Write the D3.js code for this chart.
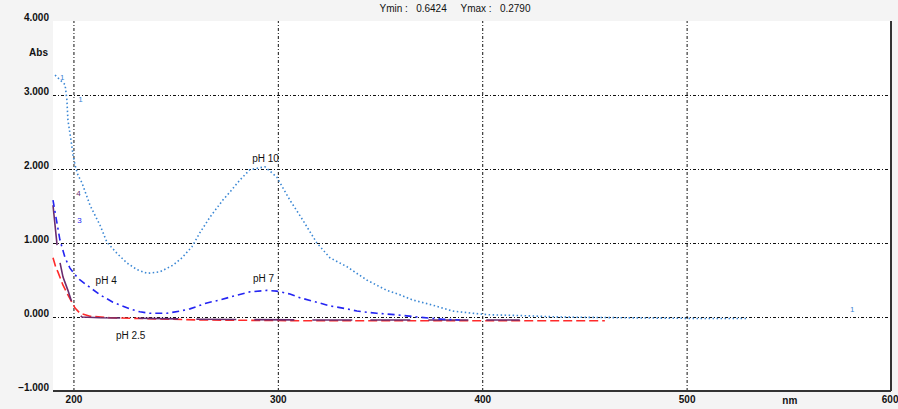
<!DOCTYPE html>
<html>
<head>
<meta charset="utf-8">
<script src="https://cdn.jsdelivr.net/npm/d3@7"></script>
<style>
  body { margin: 0; background: #f4f4f4; }
  svg { display: block; font-family: 'Liberation Sans', Arial, sans-serif; }
  .tick text { font-size: 10px; fill: #111; }
  .grid line { stroke: #111; stroke-dasharray: 3,2,1,2; }
  .grid path { display: none; }
  .lbl { font-size: 10px; fill: #111; }
</style>
</head>
<body>
<div id="chart"></div>
<script>
// Wavelength (nm) / absorbance readings
const ph10Nm  = [191.0, 195.9, 196.8, 197.3, 198.8, 199.8, 200.8, 202.2, 204.2, 208.1, 213.0, 216.4, 221.3, 226.2, 231.1, 236.0, 242.3, 248.7, 253.1, 258.0, 261.9, 266.8, 273.1, 276.6, 281.4, 286.3, 293.7, 299.5, 305.9, 312.2, 319.1, 325.5, 333.8, 343.5, 353.3, 359.7, 366.0, 375.8, 385.6, 395.4, 403.7, 418.4, 437.9, 467.3, 506.4, 529.9]
const ph10Abs = [3.27, 3.14, 2.93, 2.66, 2.39, 2.19, 2.05, 1.92, 1.81, 1.51, 1.24, 1.01, 0.86, 0.73, 0.64, 0.59, 0.61, 0.70, 0.80, 0.95, 1.14, 1.35, 1.58, 1.69, 1.85, 1.99, 2.03, 1.89, 1.58, 1.31, 1.00, 0.80, 0.68, 0.50, 0.36, 0.30, 0.23, 0.16, 0.08, 0.05, 0.03, 0.02, 0.00, -0.01, -0.02, -0.02]

const ph7Nm  = [190.0, 191.5, 193.4, 195.9, 198.3, 200.8, 203.2, 206.6, 213.0, 219.3, 227.7, 232.5, 237.4, 245.7, 252.1, 257.0, 265.3, 271.7, 278.0, 286.3, 294.6, 299.5, 305.9, 310.8, 319.1, 325.5, 333.8, 338.7, 348.4, 358.2, 368.0, 380.7, 389.0]
const ph7Abs = [1.58, 1.34, 1.04, 0.80, 0.66, 0.57, 0.50, 0.43, 0.30, 0.20, 0.11, 0.07, 0.05, 0.05, 0.08, 0.11, 0.19, 0.23, 0.28, 0.34, 0.36, 0.35, 0.31, 0.26, 0.20, 0.15, 0.11, 0.08, 0.05, 0.03, 0.00, -0.03, -0.04]

const ph4Nm  = [190.0, 191.0, 192.0, 193.4, 194.9, 197.3, 199.3, 201.2, 204.2, 213.0, 261.9, 310.8, 359.7, 418.4]
const ph4Abs = [1.51, 1.24, 0.97, 0.74, 0.54, 0.36, 0.19, 0.07, 0.00, -0.01, -0.03, -0.04, -0.04, -0.04]

const ph25Nm  = [190.0, 191.5, 192.4, 194.9, 197.3, 200.8, 203.2, 208.1, 217.9, 261.9, 310.8, 359.7, 408.6, 460.0]
const ph25Abs = [0.80, 0.66, 0.61, 0.43, 0.30, 0.12, 0.05, 0.01, -0.01, -0.04, -0.05, -0.05, -0.05, -0.05]

const xTicks = [200, 300, 400, 500]
const yTicks = [3, 2, 1, 0]
const xLabels = [200, 300, 400, 500, 600]
const yLabels = [4, 3, 2, 1, 0, -1]
const titleText = 'Ymin :   0.6424     Ymax :   0.2790'

const series = [
  { name: 'pH 2.5', nm: ph25Nm, abs: ph25Abs, color: '#ff2a2a', dash: '9,4' },
  { name: 'pH 4', nm: ph4Nm, abs: ph4Abs, color: '#6a2c6e', dash: '40,18' },
  { name: 'pH 7', nm: ph7Nm, abs: ph7Abs, color: '#2424f2', dash: '7,4,2,4' },
  { name: 'pH 10', nm: ph10Nm, abs: ph10Abs, color: '#3a87d4', dash: '1.5,2.5' }
]

const width = 898
const height = 409
const margin = { top: 21, right: 7, bottom: 18, left: 53 }
const innerWidth = width - margin.left - margin.right
const innerHeight = height - margin.top - margin.bottom

const svg = d3.select('#chart')
  .append('svg')
  .attr('width', width)
  .attr('height', height)

svg.append('rect')
  .attr('width', width)
  .attr('height', height)
  .attr('fill', '#f4f4f4')

const g = svg.append('g')
  .attr('transform', `translate(${margin.left}, ${margin.top})`)

g.append('rect')
  .attr('width', innerWidth)
  .attr('height', innerHeight)
  .attr('fill', '#ffffff')

const x = d3.scaleLinear().domain([190, 600]).range([0, innerWidth])
const y = d3.scaleLinear().domain([-1, 4]).range([innerHeight, 0])

// Gridlines
const gx = g.append('g')
  .attr('class', 'grid')
  .attr('transform', `translate(0, ${innerHeight})`)
  .call(d3.axisBottom(x).tickValues(xTicks).tickSize(-innerHeight).tickFormat(''))
gx.selectAll('text').remove()

const gy = g.append('g')
  .attr('class', 'grid')
  .call(d3.axisLeft(y).tickValues(yTicks).tickSize(-innerWidth).tickFormat(''))
gy.selectAll('text').remove()

// Curves
const line = d3.line()
  .x(d => x(d[0]))
  .y(d => y(d[1]))

series.forEach(s => {
  g.append('path')
    .datum(d3.zip(s.nm, s.abs))
    .attr('fill', 'none')
    .attr('stroke', s.color)
    .attr('stroke-width', 1.6)
    .attr('stroke-dasharray', s.dash)
    .attr('d', line)
})

// Frame: bottom and right
g.append('line')
  .attr('x1', 0).attr('x2', innerWidth)
  .attr('y1', innerHeight).attr('y2', innerHeight)
  .attr('stroke', '#333').attr('stroke-width', 2)
g.append('line')
  .attr('x1', innerWidth).attr('x2', innerWidth)
  .attr('y1', 0).attr('y2', innerHeight)
  .attr('stroke', '#333').attr('stroke-width', 2)

// Axis labels
const yAxis = g.append('g')
  .call(d3.axisLeft(y).tickValues(yLabels).tickSize(0).tickPadding(4).tickFormat(d3.format('.3f')))
yAxis.select('.domain').remove()
yAxis.selectAll('.tick text').attr('dy', '-0.1em').style('font-weight', 'bold')

const xAxis = g.append('g')
  .attr('transform', `translate(0, ${innerHeight})`)
  .call(d3.axisBottom(x).tickValues(xLabels).tickSize(0).tickPadding(5).tickFormat(d3.format('d')))
xAxis.select('.domain').remove()
xAxis.selectAll('.tick text')
  .style('font-weight', 'bold')
  .attr('text-anchor', d => d === 600 ? 'end' : 'middle')
  .attr('x', d => d === 600 ? 7 : 0)

svg.append('text')
  .attr('class', 'lbl')
  .attr('x', 48).attr('y', 56)
  .attr('text-anchor', 'end')
  .style('font-weight', 'bold')
  .text('Abs')

svg.append('text')
  .attr('class', 'lbl')
  .attr('x', margin.left + x(550.5)).attr('y', 404)
  .attr('text-anchor', 'middle')
  .style('font-weight', 'bold')
  .text('nm')

svg.append('text')
  .attr('class', 'lbl')
  .attr('x', 455).attr('y', 12)
  .attr('text-anchor', 'middle')
  .style('white-space', 'pre')
  .attr('xml:space', 'preserve')
  .text(titleText)

// Curve labels
const labels = [
  { text: 'pH 10', nm: 294, abs: 2.1 },
  { text: 'pH 7', nm: 293, abs: 0.47 },
  { text: 'pH 4', nm: 216, abs: 0.45 },
  { text: 'pH 2.5', nm: 228, abs: -0.3 }
]
g.selectAll('.curve-label')
  .data(labels)
  .enter()
  .append('text')
  .attr('class', 'lbl curve-label')
  .attr('x', d => x(d.nm))
  .attr('y', d => y(d.abs))
  .attr('text-anchor', 'middle')
  .text(d => d.text)

// Small curve index marks
const marks = [
  { text: '1', nm: 194.5, abs: 3.2, color: '#3a87d4' },
  { text: '1', nm: 203.5, abs: 2.9, color: '#3a87d4' },
  { text: '4', nm: 202.5, abs: 1.63, color: '#6a2c6e' },
  { text: '3', nm: 203, abs: 1.27, color: '#2424f2' },
  { text: '1', nm: 581, abs: 0.07, color: '#3a87d4' }
]
g.selectAll('.mark')
  .data(marks)
  .enter()
  .append('text')
  .attr('class', 'mark')
  .attr('x', d => x(d.nm))
  .attr('y', d => y(d.abs))
  .attr('text-anchor', 'middle')
  .attr('fill', d => d.color)
  .style('font-size', '8px')
  .text(d => d.text)
</script>
</body>
</html>
